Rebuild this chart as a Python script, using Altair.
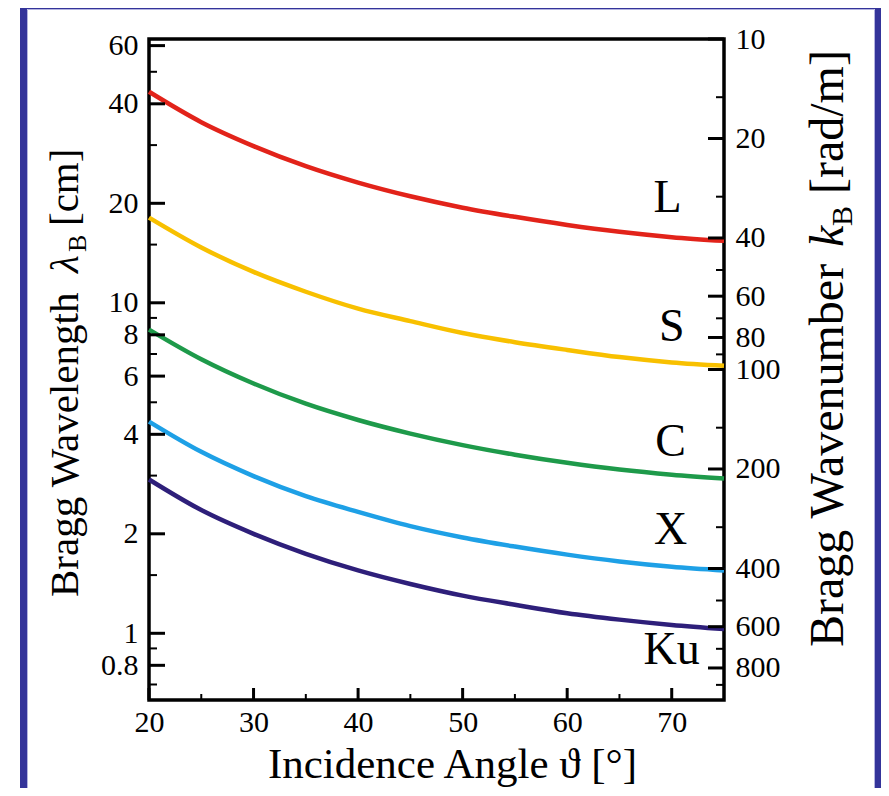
import altair as alt
import pandas as pd

# ---------------- data ----------------
theta = [20, 25, 30, 35, 40, 45, 50, 55, 60, 65, 70, 75]
bands = ["L", "S", "C", "X", "Ku"]
lam_L = [43.5, 35.2, 29.8, 25.9, 23.1, 21.0, 19.4, 18.2, 17.2, 16.4, 15.8, 15.4]
lam_S = [18.1, 14.7, 12.4, 10.8, 9.6, 8.8, 8.1, 7.6, 7.2, 6.85, 6.6, 6.45]
lam_C = [8.3, 6.75, 5.7, 4.95, 4.42, 4.02, 3.71, 3.47, 3.28, 3.13, 3.02, 2.94]
lam_X = [4.37, 3.54, 2.99, 2.6, 2.33, 2.11, 1.95, 1.83, 1.73, 1.65, 1.59, 1.55]
lam_Ku = [2.92, 2.36, 2.0, 1.74, 1.55, 1.41, 1.30, 1.22, 1.15, 1.10, 1.06, 1.03]
colors = ["#e2231a", "#f8c000", "#1e9a4a", "#1ea0e6", "#2e1f7a"]

label_theta = [69.6, 70.0, 69.9, 69.9, 70.0]
label_lam = [20.8, 8.45, 3.80, 2.06, 0.89]

x_major = [20, 30, 40, 50, 60, 70]
x_minor = [25, 35, 45, 55, 65, 75]
left_major = [0.8, 1, 2, 4, 6, 8, 10, 20, 40, 60]
left_minor = [0.7, 0.9, 1.5, 3, 5, 7, 9, 15, 30, 50]
right_major = [10, 20, 40, 60, 80, 100, 200, 400, 600, 800]
right_minor = [15, 30, 50, 70, 90, 150, 300, 500, 700, 900]

# ---------------- tables ----------------
series = {"L": lam_L, "S": lam_S, "C": lam_C, "X": lam_X, "Ku": lam_Ku}
df = pd.DataFrame([
    {"band": b, "theta": t, "lam": v}
    for b in bands for t, v in zip(theta, series[b])
])
df_lab = pd.DataFrame({"band": bands, "theta": label_theta, "lam": label_lam})

W, H = 575, 661
FONT = "Liberation Serif"
BLUE = "#34349a"
TICKFS = 30

xscale = alt.Scale(domain=[20, 75], nice=False, zero=False)
yscale = alt.Scale(type="log", domain=[0.6283, 62.83], nice=False)
kscale = alt.Scale(type="log", domain=[10, 1000], nice=False, reverse=True)
cscale = alt.Scale(domain=bands, range=colors)

xaxis = alt.Axis(values=x_major, format="d", ticks=False, domain=False, grid=False,
                 labelFont=FONT, labelFontSize=TICKFS, labelColor="black", labelPadding=7,
                 labelFlush=False,
                 title="Incidence Angle  ϑ [°]", titleFont=FONT, titleFontSize=43,
                 titleFontWeight="normal", titleColor="black", titleBaseline="alphabetic",
                 titleX=303, titleY=77, titleAlign="center")
yaxis = alt.Axis(values=left_major, format="~g", ticks=False, domain=False, grid=False,
                 labelFont=FONT, labelFontSize=TICKFS, labelColor="black", labelPadding=11,
                 labelFlush=False, title=None)

lines = alt.Chart(df).mark_line(strokeWidth=4.5, interpolate="monotone", clip=False).encode(
    x=alt.X("theta:Q", scale=xscale, axis=xaxis),
    y=alt.Y("lam:Q", scale=yscale, axis=yaxis),
    color=alt.Color("band:N", scale=cscale, legend=None),
)

labels = alt.Chart(df_lab).mark_text(font=FONT, fontSize=46, color="black",
                                     align="center", baseline="middle").encode(
    x=alt.X("theta:Q", scale=xscale, axis=xaxis),
    y=alt.Y("lam:Q", scale=yscale, axis=yaxis),
    text="band:N",
)

# inward ticks, left axis
lt_major = alt.Chart(pd.DataFrame({"v": left_major})).mark_rule(color="black", strokeWidth=3).encode(
    y=alt.Y("v:Q", scale=yscale, axis=yaxis), x=alt.value(0), x2=alt.value(16))
lt_minor = alt.Chart(pd.DataFrame({"v": left_minor})).mark_rule(color="black", strokeWidth=2).encode(
    y=alt.Y("v:Q", scale=yscale, axis=yaxis), x=alt.value(0), x2=alt.value(8))
# inward ticks, bottom axis
bt_major = alt.Chart(pd.DataFrame({"t": x_major})).mark_rule(color="black", strokeWidth=3).encode(
    x=alt.X("t:Q", scale=xscale, axis=xaxis), y=alt.value(H), y2=alt.value(H - 12))
bt_minor = alt.Chart(pd.DataFrame({"t": x_minor})).mark_rule(color="black", strokeWidth=2).encode(
    x=alt.X("t:Q", scale=xscale, axis=xaxis), y=alt.value(H), y2=alt.value(H - 6))

main = alt.layer(lines, labels, lt_major, lt_minor, bt_major, bt_minor)

# right axis: Bragg wavenumber
kaxis = alt.Axis(orient="right", values=right_major, format="~g", ticks=False, domain=False,
                 grid=False, labelFont=FONT, labelFontSize=TICKFS, labelColor="black",
                 labelPadding=11, labelFlush=False, title=None)
rt_major = alt.Chart(pd.DataFrame({"k": right_major})).mark_rule(color="black", strokeWidth=3).encode(
    y=alt.Y("k:Q", scale=kscale, axis=kaxis), x=alt.value(W), x2=alt.value(W - 16))
rt_minor = alt.Chart(pd.DataFrame({"k": right_minor})).mark_rule(color="black", strokeWidth=2).encode(
    y=alt.Y("k:Q", scale=kscale, axis=kaxis), x=alt.value(W), x2=alt.value(W - 8))
right = alt.layer(rt_major, rt_minor)

one = alt.Data(values=[{}])


def txt(s, x, y, size, italic=False):
    kw = dict(font=FONT, fontSize=size, color="black", angle=270, align="left",
              baseline="alphabetic")
    if italic:
        kw["fontStyle"] = "italic"
    return alt.Chart(one).mark_text(**kw).encode(
        x=alt.value(x), y=alt.value(y), text=alt.value(s))


# left title: Bragg Wavelength λ_B [cm]
t_left = [
    txt("Bragg Wavelength", -71, 558, 41),
    txt("λ", -71, 234, 41, italic=True),
    txt("B", -63, 213, 26),
    txt("[cm]", -71, 187, 41),
]
# right title: Bragg Wavenumber k_B [rad/m]
t_right = [
    txt("Bragg Wavenumber", 694, 608, 48),
    txt("k", 694, 208, 48, italic=True),
    txt("B", 703, 187, 30),
    txt("[rad/m]", 694, 155, 48),
]

# outer blue frame
frame = [
    alt.Chart(one).mark_rule(color=BLUE, strokeWidth=7).encode(
        x=alt.value(-125.5), y=alt.value(-36), y2=alt.value(800)),
    alt.Chart(one).mark_rule(color=BLUE, strokeWidth=7).encode(
        x=alt.value(729.5), y=alt.value(-36), y2=alt.value(800)),
    alt.Chart(one).mark_rule(color=BLUE, strokeWidth=4).encode(
        x=alt.value(-129), x2=alt.value(733), y=alt.value(-32)),
    alt.Chart(one).mark_rule(color="#b4b4e0", strokeWidth=1).encode(
        x=alt.value(-121.5), x2=alt.value(725.5), y=alt.value(-29.5)),
    alt.Chart(one).mark_rule(color="#b4b4e0", strokeWidth=1).encode(
        x=alt.value(-121.5), y=alt.value(-29.5), y2=alt.value(800)),
    alt.Chart(one).mark_rule(color="#b4b4e0", strokeWidth=1).encode(
        x=alt.value(725.5), y=alt.value(-29.5), y2=alt.value(800)),
]

chart = alt.layer(main, right, *t_left, *t_right, *frame).resolve_scale(
    y="independent"
).properties(
    width=W, height=H,
    autosize=alt.AutoSizeParams(type="none"),
    padding={"left": 141, "top": 31, "right": 157, "bottom": 88},
    background="white",
).configure_view(stroke="black", strokeWidth=3.5)

chart.save("out.html", embed_options={"renderer": "svg", "actions": False})
